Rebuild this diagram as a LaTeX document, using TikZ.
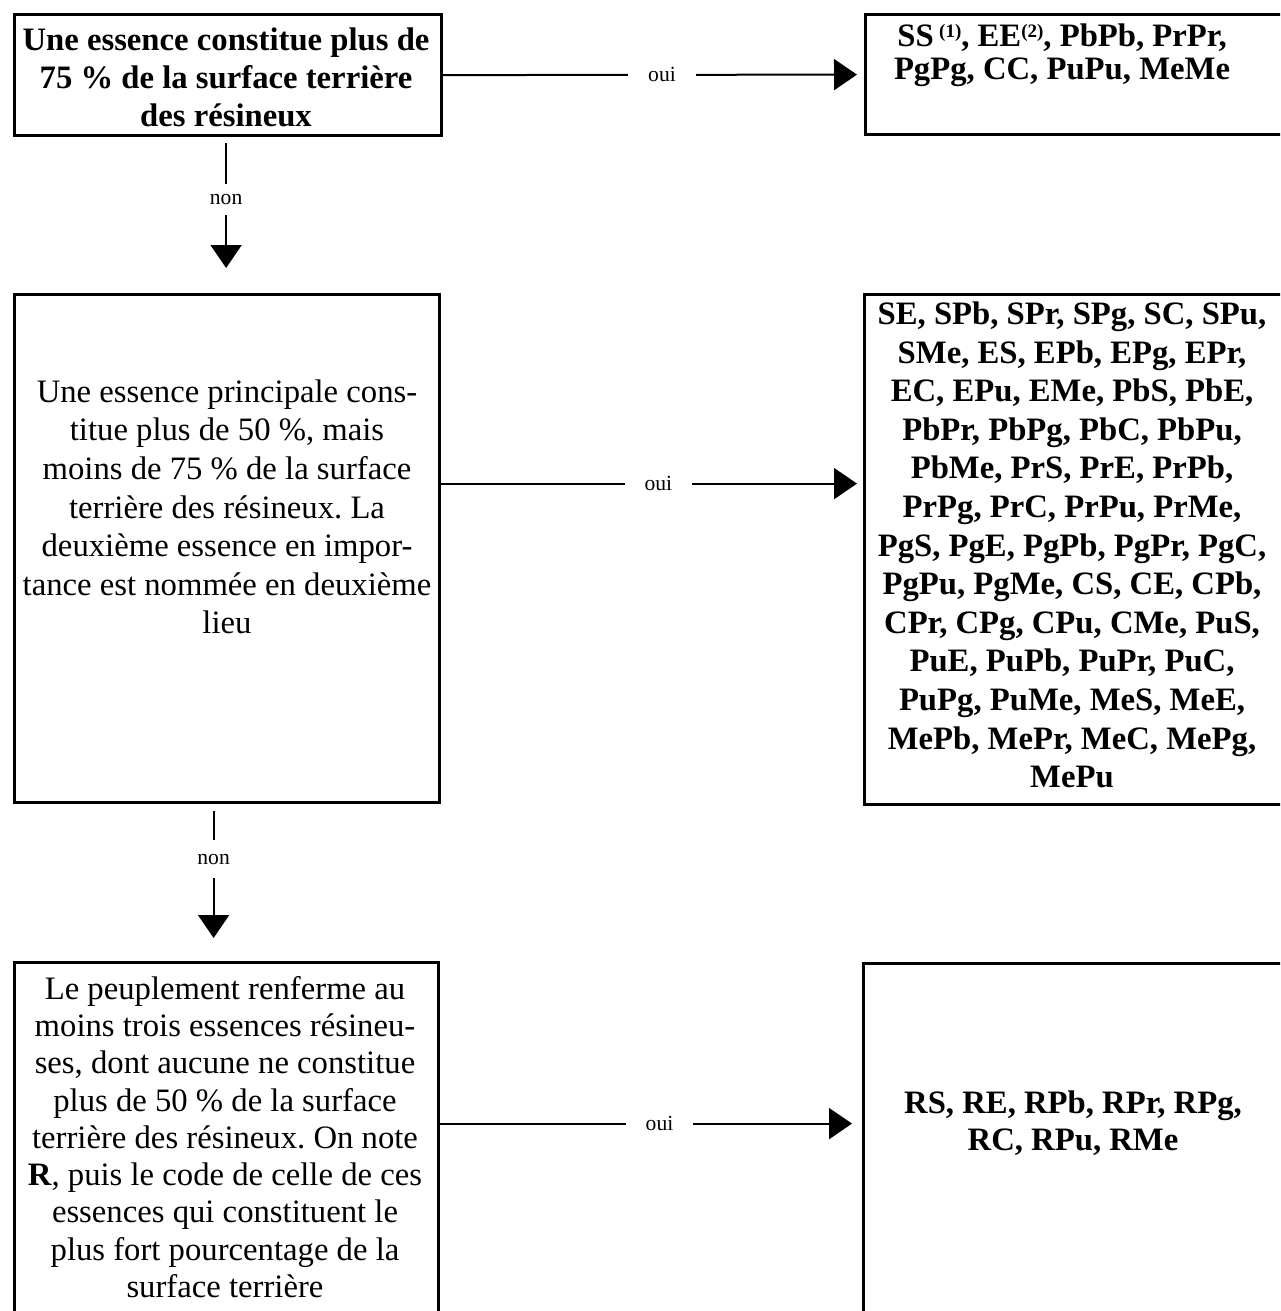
\documentclass[tikz,border=0pt]{standalone}
\usepackage{fontspec}
\setmainfont{Liberation Serif}
\usetikzlibrary{arrows.meta}
\frenchspacing
\newcommand{\callnote}[1]{\raisebox{4.5pt}{\fontsize{9.5}{9.5}\selectfont(#1)}}

\begin{document}
\begin{tikzpicture}[x=0.5pt,y=-0.5pt,
    box/.style={draw,line width=1.6pt,inner sep=0pt,anchor=north west},
    boxtext/.style={align=center,inner sep=0pt},
    flow/.style={line width=1pt,-{Triangle[length=11.5pt,width=15.5pt]}},
    answer/.style={fill=white,inner xsep=10pt,inner ysep=1pt,font=\fontsize{10.8}{12}\selectfont}]
  \useasboundingbox (0,0) rectangle (1280,1311);
  \clip (0,0) rectangle (1280,1311);

  % boxes
  \node[box,minimum width=213.5pt,minimum height=60.5pt] (A) at (13,13) {};
  \node[box,minimum width=220pt,minimum height=60pt] (B) at (864,13) {};
  \node[box,minimum width=212.5pt,minimum height=254pt] (C) at (13,293) {};
  \node[box,minimum width=220pt,minimum height=255pt] (D) at (863,293) {};
  \node[box,minimum width=212pt,minimum height=190pt] (E) at (13,961) {};
  \node[box,minimum width=220pt,minimum height=190pt] (F) at (862,962) {};

  % texts
  \node[boxtext,font=\bfseries\fontsize{16.35}{19}\selectfont] (Atext) at (226,77)
    {Une essence constitue plus de\\75~\% de la surface terrière\\des résineux};
  \node[boxtext,font=\bfseries\fontsize{16.35}{16.5}\selectfont] (Btext) at (1062,55)
    {SS\,\callnote{1}, EE\callnote{2}, PbPb, PrPr,\\PgPg, CC, PuPu, MeMe};
  \node[boxtext,font=\fontsize{16.35}{19.3}\selectfont] (Ctext) at (227,507)
    {Une essence principale cons-\\titue plus de 50~\%, mais\\moins de 75~\% de la surface\\terrière des résineux. La\\deuxième essence en impor-\\tance est nommée en deuxième\\lieu};
  \node[boxtext,font=\bfseries\fontsize{16.35}{19.3}\selectfont] (Dtext) at (1072,545)
    {SE, SPb, SPr, SPg, SC, SPu,\\SMe, ES, EPb, EPg, EPr,\\EC, EPu, EMe, PbS, PbE,\\PbPr, PbPg, PbC, PbPu,\\PbMe, PrS, PrE, PrPb,\\PrPg, PrC, PrPu, PrMe,\\PgS, PgE, PgPb, PgPr, PgC,\\PgPu, PgMe, CS, CE, CPb,\\CPr, CPg, CPu, CMe, PuS,\\PuE, PuPb, PuPr, PuC,\\PuPg, PuMe, MeS, MeE,\\MePb, MePr, MeC, MePg,\\MePu};
  \node[boxtext,font=\fontsize{16.35}{18.65}\selectfont] (Etext) at (225,1137)
    {Le peuplement renferme au\\moins trois essences résineu-\\ses, dont aucune ne constitue\\plus de 50~\% de la surface\\terrière des résineux. On note\\\textbf{R}, puis le code de celle de ces\\essences qui constituent le\\plus fort pourcentage de la\\surface terrière};
  \node[boxtext,font=\bfseries\fontsize{16.35}{18.5}\selectfont] (Ftext) at (1073,1123)
    {RS, RE, RPb, RPr, RPg,\\RC, RPu, RMe};

  % oui
  \draw[flow,shorten >=3.5pt] (A.east) -- node[answer,pos=0.52] {oui} (B.west);
  \draw[flow,shorten >=3pt] ([yshift=32.5pt]C.east) coordinate (c2)
    -- node[answer,pos=0.515] {oui} (c2 -| D.west);
  \draw[flow,shorten >=5pt] ([yshift=14.5pt]E.east) coordinate (c3)
    -- node[answer,pos=0.52] {oui} (c3 -| F.west);

  % non
  \draw[flow,shorten <=3pt,shorten >=12.5pt] ([xshift=-1pt]A.south) coordinate (c4)
    -- node[answer,pos=0.4,inner xsep=1pt,inner ysep=5pt] {non} (c4 |- C.north);
  \draw[flow,shorten <=3.5pt,shorten >=11.5pt] ([xshift=-6.75pt]C.south) coordinate (c5)
    -- node[answer,pos=0.35,inner xsep=1pt,inner ysep=7pt] {non} (c5 |- E.north);
\end{tikzpicture}
\end{document}
